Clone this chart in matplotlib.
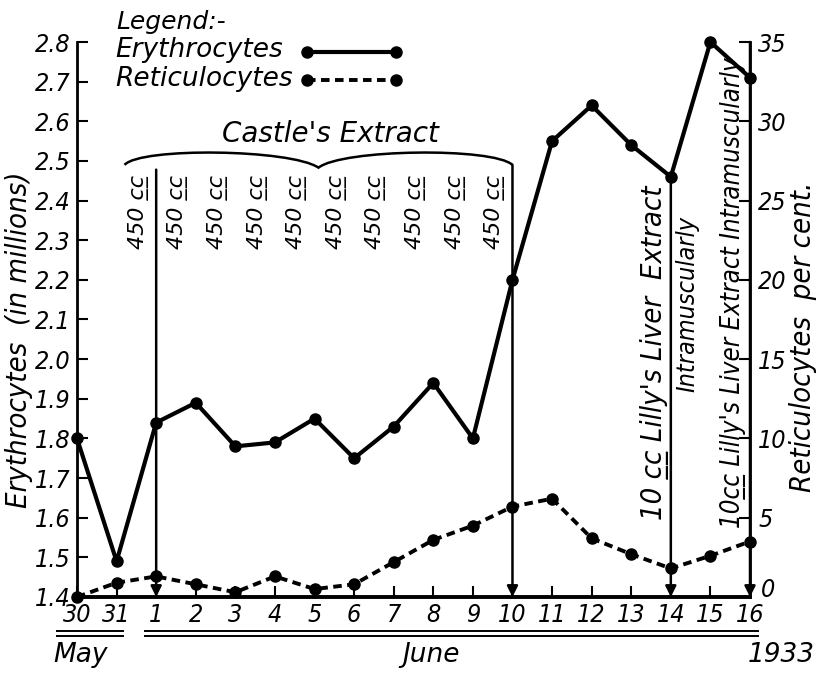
import numpy as np
import matplotlib
matplotlib.use('Agg')
import matplotlib.pyplot as plt
from matplotlib.path import Path
from matplotlib.patches import PathPatch
from matplotlib.transforms import ScaledTranslation

plt.rcParams['font.family'] = ['DejaVu Sans']
plt.rcParams['font.style'] = 'oblique'

# day labels along the bottom (30 May .. 16 June 1933)
days = ['30', '31', '1', '2', '3', '4', '5', '6', '7', '8', '9',
        '10', '11', '12', '13', '14', '15', '16']
erythro = [1.80, 1.49, 1.84, 1.89, 1.78, 1.79, 1.85, 1.75, 1.83, 1.94,
           1.80, 2.20, 2.55, 2.64, 2.54, 2.46, 2.80, 2.71]      # millions
retic = [0.0, 0.9, 1.3, 0.8, 0.3, 1.3, 0.5, 0.8, 2.2, 3.6,
         4.5, 5.7, 6.2, 3.7, 2.7, 1.8, 2.6, 3.5]                # per cent

castle_days = ['1', '2', '3', '4', '5', '6', '7', '8', '9', '10']
castle_dose = '450 c\u0332c\u0332'
liver_days = ['14', '16']
ery_ticks = [1.4, 1.5, 1.6, 1.7, 1.8, 1.9, 2.0, 2.1, 2.2, 2.3, 2.4, 2.5, 2.6, 2.7, 2.8]
ret_ticks = [0, 5, 10, 15, 20, 25, 30, 35]

x = np.arange(len(days))
ix = {d: i for i, d in enumerate(days) if i >= 2}
cond = dict(fontstretch='condensed')

fig = plt.figure(figsize=(8.17, 6.74), dpi=100)
ax = fig.add_axes([77 / 817, 1 - 597 / 674, (750 - 77) / 817, (597 - 42) / 674])
ax2 = ax.twinx()

ax.set_xlim(0, 17)
ax.set_ylim(1.4, 2.8)
ax2.set_ylim(0, 35)

for a in (ax, ax2):
    a.spines['top'].set_visible(False)
    a.patch.set_visible(False)
ax.spines['right'].set_visible(False)
ax2.spines['left'].set_visible(False)
ax2.spines['bottom'].set_visible(False)
ax.spines['left'].set_linewidth(2)
ax.spines['bottom'].set_linewidth(2.8)
ax2.spines['right'].set_linewidth(2)

ax.set_xticks(x)
ax.set_xticklabels(days, fontsize=18, **cond)
ax.set_yticks(ery_ticks)
ax.set_yticklabels([f'{v:.1f}' for v in ery_ticks], fontsize=18, **cond)
ax2.set_yticks(ret_ticks)
ax2.set_yticklabels([str(v) for v in ret_ticks], fontsize=18, **cond)
ax.tick_params(axis='both', direction='in', length=8, width=1.5, pad=5)
ax.tick_params(axis='x', pad=4)
ax2.tick_params(axis='y', direction='in', length=8, width=1.5, pad=6)

# the "0" on the right sits a little higher, clear of the "16"
lbl0 = ax2.yaxis.get_major_ticks()[0].label2
lbl0.set_transform(lbl0.get_transform() + ScaledTranslation(2 / 72, 7 / 72, fig.dpi_scale_trans))

# axis titles
fig.text(19 / 817, 1 - 340 / 674, 'Erythrocytes  (in millions)', rotation=90,
         fontsize=21, ha='center', va='center', **cond)
fig.text(803 / 817, 1 - 337 / 674, 'Reticulocytes  per cent.', rotation=90,
         fontsize=21, ha='center', va='center', **cond)

# data
ax.plot(x, erythro, c='k', lw=3, marker='o', ms=8, zorder=5, clip_on=False)
ax2.plot(x, retic, c='k', lw=2.8, ls=(0, (2.2, 1.4)), marker='o', ms=8,
         zorder=5, clip_on=False)

# arrows marking injections
arrow = dict(arrowstyle='-|>', lw=1.8, color='k', mutation_scale=16,
             shrinkA=0, shrinkB=0)
for xa, ytop in [(ix['1'], 2.478), (ix['10'], 2.49), (ix['14'], erythro[ix['14']]),
                 (ix['16'], 2.8)]:
    ax.annotate('', xy=(xa, 1.4), xytext=(xa, ytop), arrowprops=arrow,
                zorder=3, annotation_clip=False)

# brace over Castle's extract period
xl, xr, xm = 1.2, ix['10'], 6.1
verts = [(xl, 2.49), (1.6, 2.535), (5.4, 2.53), (xm, 2.483),
         (6.7, 2.53), (10.5, 2.535), (xr, 2.49)]
codes = [Path.MOVETO] + [Path.CURVE4] * 6
ax.add_patch(PathPatch(Path(verts, codes), fc='none', ec='k', lw=1.8, clip_on=False))
ax.text(6.4, 2.567, "Castle's Extract", fontsize=20, ha='center', va='center')

for d in castle_days:
    ax.text(ix[d] - 0.45, 2.37, castle_dose, rotation=90, fontsize=16,
            ha='center', va='center')

ax.text(ix['14'] - 0.4, 2.016, '10 c\u0332c\u0332 Lilly\'s Liver  Extract', rotation=90,
        fontsize=21, ha='center', va='center', **cond)
ax.text(ix['14'] + 0.42, 2.14, 'Intramuscularly', rotation=90,
        fontsize=18, ha='center', va='center', **cond)
ax.text(ix['16'] - 0.42, 2.167, '10c\u0332c\u0332 Lilly\'s Liver Extract Intramuscularly',
        rotation=90, fontsize=18.5, ha='center', va='center', **cond)

# legend
tr = ax.get_xaxis_transform()
ax.text(1.0, 1.036, 'Legend:-', transform=tr, fontsize=18, ha='left', va='center')
ax.text(0.96, 0.986, 'Erythrocytes', transform=tr, fontsize=19, ha='left', va='center')
ax.text(0.96, 0.933, 'Reticulocytes', transform=tr, fontsize=19, ha='left', va='center')
ax.plot([5.8, 8.05], [0.982, 0.982], transform=tr, c='k', lw=3, marker='o', ms=8,
        clip_on=False)
ax.plot([5.8, 8.05], [0.932, 0.932], transform=tr, c='k', lw=2.8,
        ls=(0, (2.2, 1.4)), marker='o', ms=8, clip_on=False)

# months under the day axis
for x0, x1 in [(-0.5, 1.15), (1.72, 17.2)]:
    for yy in (-0.062, -0.070):
        ax.plot([x0, x1], [yy, yy], transform=tr, c='k', lw=1.4, clip_on=False)
ax.text(0.08, -0.105, 'May', transform=tr, fontsize=19, ha='center', va='center')
ax.text(8.95, -0.105, 'June', transform=tr, fontsize=19, ha='center', va='center')
ax.text(17.8, -0.105, '1933', transform=tr, fontsize=19, ha='center', va='center')

fig.savefig('out.png', dpi=100, facecolor='white')
